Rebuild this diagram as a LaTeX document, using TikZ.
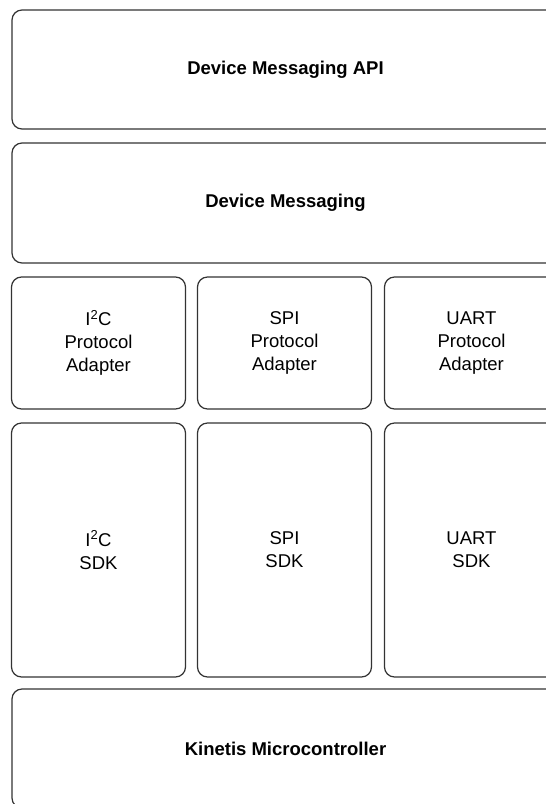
\documentclass[tikz,border=0pt]{standalone}
\usepackage{fontspec}
\setmainfont{Liberation Sans}
\begin{document}
\begin{tikzpicture}[x=1pt,y=1pt,
  layer/.style={draw=black!80, line width=1.2pt, rounded corners=10pt, fill=white,
    inner sep=0pt, align=center, font=\fontsize{18.5}{23}\selectfont},
  wide/.style={layer, minimum width=547pt, minimum height=119pt, font=\fontsize{18.5}{23}\selectfont\bfseries},
  small/.style={layer, minimum width=174pt, minimum height=132pt},
  tall/.style={layer, minimum width=174pt, minimum height=254pt}]
\useasboundingbox (0,0) rectangle (546,-804);
\clip (0,0) rectangle (546,-804);
\node[wide] (api) at (285.5,-69.5) {Device Messaging API};
\node[wide, minimum height=120pt] (msg) at (285.5,-203) {Device Messaging};
\node[small] (i2cpa) at (98.5,-343) {I\textsuperscript{2}C\\Protocol\\Adapter};
\node[small] (spipa) at (284.5,-343) {SPI\\Protocol\\Adapter};
\node[small] (uartpa) at (471.5,-343) {UART\\Protocol\\Adapter};
\node[tall] (i2csdk) at (98.5,-550) {I\textsuperscript{2}C\\SDK};
\node[tall] (spisdk) at (284.5,-550) {SPI\\SDK};
\node[tall] (uartsdk) at (471.5,-550) {UART\\SDK};
\node[wide] (mcu) at (285.5,-748.5) {Kinetis Microcontroller};
\end{tikzpicture}
\end{document}
